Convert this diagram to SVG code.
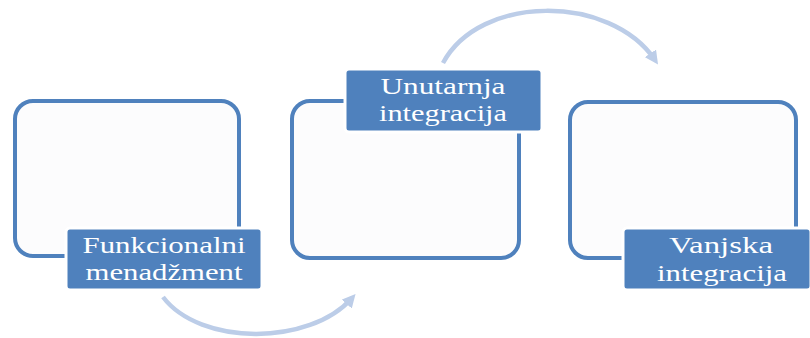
<svg xmlns="http://www.w3.org/2000/svg" width="810" height="338" viewBox="0 0 810 338">
<defs>
<style>
.box{fill:#fcfcfd;stroke:#4f81bd;stroke-width:4}
.lbl{fill:#4f81bd;stroke:#ffffff;stroke-width:3}
.t{fill:#ffffff;font-family:"Liberation Serif","Times New Roman",serif;font-size:24px;text-anchor:middle}
.arc{fill:none;stroke:#bccde8;stroke-width:4.5;marker-end:url(#ah)}
</style>
<marker id="ah" viewBox="0 0 10 10" refX="6" refY="5" markerWidth="3" markerHeight="3" orient="auto" markerUnits="strokeWidth">
<path d="M0,0 L10,5 L0,10 z" fill="#bccde8"/>
</marker>
</defs>
<rect width="810" height="338" fill="#ffffff"/>
<g id="connectors">
<path class="arc" d="M163,297 C200,346 310,346 352,298"/>
<path class="arc" d="M443,63 C480,-6 610,-6 655,60"/>
</g>
<g id="node1">
<rect class="box" x="15" y="101" width="224" height="155" rx="18"/>
<rect class="lbl" x="66" y="228" width="196" height="62" rx="4"/>
<text class="t" x="164" y="253" textLength="163" lengthAdjust="spacingAndGlyphs">Funkcionalni</text>
<text class="t" x="164" y="280" textLength="157" lengthAdjust="spacingAndGlyphs">menadžment</text>
</g>
<g id="node2">
<rect class="box" x="292" y="101" width="227" height="157" rx="18"/>
<rect class="lbl" x="345" y="69" width="197" height="63" rx="4"/>
<text class="t" x="443" y="94" textLength="125" lengthAdjust="spacingAndGlyphs">Unutarnja</text>
<text class="t" x="443" y="121" textLength="128" lengthAdjust="spacingAndGlyphs">integracija</text>
</g>
<g id="node3">
<rect class="box" x="570" y="102" width="226" height="156" rx="18"/>
<rect class="lbl" x="623" y="228" width="188" height="62" rx="4"/>
<text class="t" x="721" y="253" textLength="104" lengthAdjust="spacingAndGlyphs">Vanjska</text>
<text class="t" x="722" y="281" textLength="130" lengthAdjust="spacingAndGlyphs">integracija</text>
</g>
</svg>
